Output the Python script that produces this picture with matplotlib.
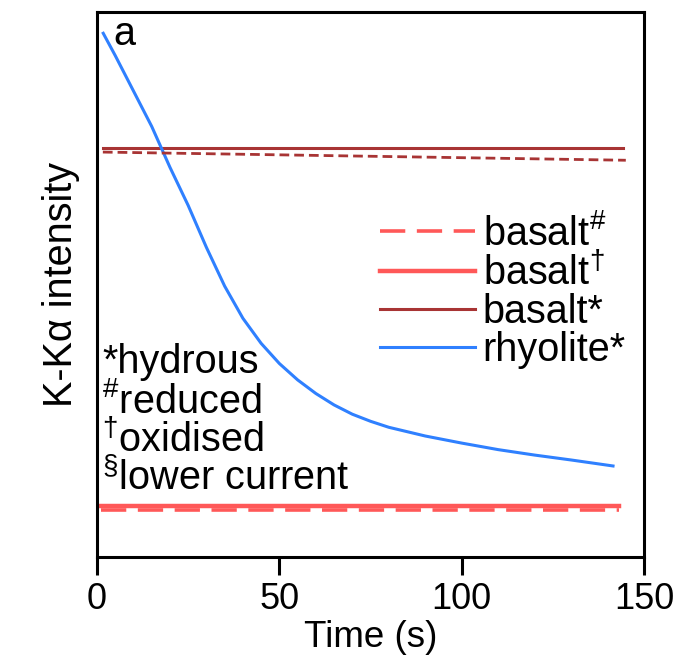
import matplotlib
matplotlib.use("Agg")
import matplotlib.pyplot as plt

plt.rcParams["font.family"] = ["Liberation Sans", "DejaVu Sans"]
plt.rcParams["mathtext.fontset"] = "custom"
plt.rcParams["mathtext.rm"] = "Liberation Sans"
plt.rcParams["mathtext.it"] = "Liberation Sans:italic"
plt.rcParams["mathtext.bf"] = "Liberation Sans:bold"

# rhyolite* (hydrous) K-Ka intensity decay, arbitrary units
rhy_t = [1.7, 5, 10, 15, 20, 25, 30, 35, 40, 45, 50, 55, 60, 65, 70, 75,
         80, 90, 100, 110, 120, 130, 141.5]
rhy_v = [0.961, 0.920, 0.855, 0.790, 0.715, 0.645, 0.568, 0.497, 0.438, 0.392,
         0.355, 0.325, 0.300, 0.279, 0.262, 0.249, 0.238, 0.222, 0.209, 0.197,
         0.187, 0.178, 0.167]

# basalt series (flat)
b_star_t = [1.6, 144.2]
b_star_v = [0.750, 0.750]
b_star_lc_t = [1.6, 145.0]      # dashed dark red, not in legend
b_star_lc_v = [0.743, 0.728]
b_ox_t = [1.1, 143.1]
b_ox_v = [0.093, 0.093]
b_red_t = [1.1, 143.1]
b_red_v = [0.086, 0.086]

xticks = [0, 50, 100, 150]

LIGHT = "#ff5858"
DARK = "#a83434"
BLUE = "#2f80ff"
FS = 28.5

fig = plt.figure(figsize=(6.79, 6.68), dpi=100)
ax = fig.add_axes([0.1429, 0.1662, 0.8056, 0.8158])

ax.plot(b_red_t, b_red_v, color=LIGHT, lw=2.6, dashes=(7, 3.2), label=r"basalt$^{\#}$")
ax.plot(b_ox_t, b_ox_v, color=LIGHT, lw=3.2, label=r"basalt$^{\mathrm{†}}$")
ax.plot(b_star_t, b_star_v, color=DARK, lw=2.2, label="basalt*")
ax.plot(rhy_t, rhy_v, color=BLUE, lw=2.2, label="rhyolite*")
ax.plot(b_star_lc_t, b_star_lc_v, color=DARK, lw=2.0, dashes=(3.5, 1.8))

ax.set_xlim(0, 150)
ax.set_ylim(0, 1)
ax.set_xticks(xticks)
ax.set_yticks([])
ax.tick_params(axis="x", length=13, width=2.2, pad=5, labelsize=26)
for s in ax.spines.values():
    s.set_linewidth(2.2)

ax.set_xlabel("Time (s)", fontsize=26.5, labelpad=2)
ax.set_ylabel("K-Kα intensity", fontsize=FS, labelpad=12)

ax.text(0.03, 0.995, "a", transform=ax.transAxes, fontsize=FS, va="top", ha="left")

notes = ["*hydrous", r"$^{\#}$reduced", r"$^{\mathrm{†}}$oxidised", r"$^{\mathrm{§}}$lower current"]
note_y = [0.338, 0.264, 0.193, 0.123]
for txt, y in zip(notes, note_y):
    ax.text(1.4, y, txt, fontsize=FS, va="baseline", ha="left")

ax.legend(loc="upper left", bbox_to_anchor=(0.517, 0.63), frameon=False,
          fontsize=FS, handlelength=2.4, handletextpad=0.2, labelspacing=0.0,
          borderpad=0, borderaxespad=0)

fig.savefig("out.png", dpi=100)
